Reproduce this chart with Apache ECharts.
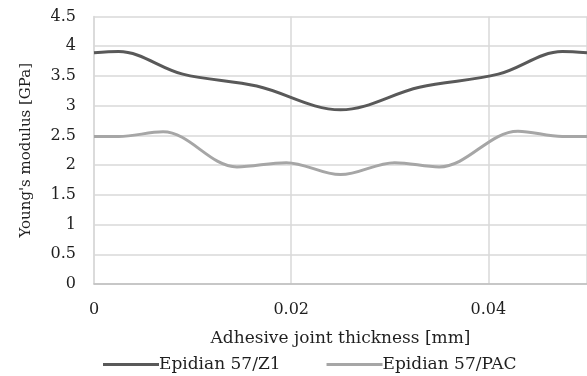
<!DOCTYPE html>
<html>
<head>
<meta charset="utf-8">
<script src="https://cdn.jsdelivr.net/npm/echarts@6/dist/echarts.min.js"></script>
<style>
  html, body { margin: 0; padding: 0; background: #fff; }
  #chart { width: 587px; height: 376px; }
</style>
</head>
<body>
<div id="chart"></div>
<script>
// joint thickness [mm] / Young's modulus [GPa]
var z1X = [0, 0.0025, 0.009, 0.0165, 0.025, 0.033, 0.041, 0.0475, 0.05];
var z1Y = [3.89, 3.91, 3.53, 3.33, 2.93, 3.31, 3.53, 3.91, 3.89];
var pacX = [0, 0.0025, 0.007, 0.0145, 0.0195, 0.025, 0.0305, 0.035, 0.043, 0.0475, 0.05];
var pacY = [2.48, 2.48, 2.56, 1.97, 2.04, 1.84, 2.04, 1.97, 2.57, 2.48, 2.48];
var seriesNames = ['Epidian 57/Z1', 'Epidian 57/PAC'];

function pairs(xs, ys) {
  return xs.map(function (x, i) { return [x, ys[i]]; });
}

var myChart = echarts.init(document.getElementById('chart'));
var font = 'DejaVu Serif';
var txt = '#1f1f1f';

var option = {
  animation: false,
  grid: { left: 94, right: 0, top: 16.5, bottom: 92 },
  legend: {
    left: 98,
    top: 351,
    itemWidth: 56,
    itemHeight: 3,
    itemGap: 46,
    icon: 'rect',
    textStyle: { fontFamily: font, fontSize: 17, color: txt, padding: [0, 0, 0, -5] },
    data: seriesNames
  },
  xAxis: {
    type: 'value',
    min: 0,
    max: 0.05,
    interval: 0.02,
    name: 'Adhesive joint thickness [mm]',
    nameLocation: 'middle',
    nameGap: 46,
    nameTextStyle: { fontFamily: font, fontSize: 17, color: txt },
    axisLine: { lineStyle: { color: '#bfbfbf', width: 1.5 } },
    axisTick: { show: false },
    axisLabel: { fontFamily: font, fontSize: 16, color: txt, margin: 18, showMaxLabel: false },
    splitLine: { show: true, lineStyle: { color: '#d9d9d9', width: 1.5 } }
  },
  yAxis: {
    type: 'value',
    min: 0,
    max: 4.5,
    interval: 0.5,
    name: "Young's modulus [GPa]",
    nameLocation: 'middle',
    nameGap: 60,
    nameTextStyle: { fontFamily: font, fontSize: 15, color: txt },
    axisLine: { show: true, lineStyle: { color: '#d9d9d9', width: 1.5 } },
    axisTick: { show: false },
    axisLabel: { fontFamily: font, fontSize: 16, color: txt, margin: 18 },
    splitLine: { lineStyle: { color: '#d9d9d9', width: 1.5 } }
  },
  series: [{
    name: seriesNames[0],
    type: 'line',
    smooth: 0.35,
    showSymbol: false,
    data: pairs(z1X, z1Y),
    lineStyle: { color: '#595959', width: 3 },
    itemStyle: { color: '#595959' }
  }, {
    name: seriesNames[1],
    type: 'line',
    smooth: 0.35,
    showSymbol: false,
    data: pairs(pacX, pacY),
    lineStyle: { color: '#a6a6a6', width: 3 },
    itemStyle: { color: '#a6a6a6' }
  }]
};

myChart.setOption(option);
</script>
</body>
</html>
